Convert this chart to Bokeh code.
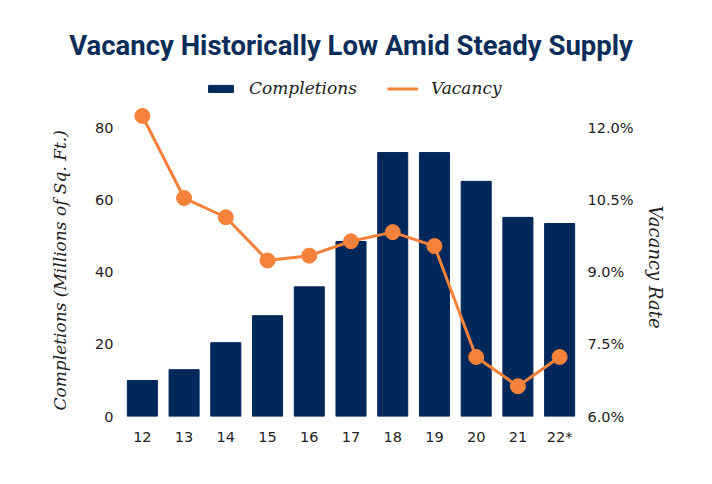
from bokeh.plotting import figure
from bokeh.models import (FactorRange, Range1d, LinearAxis, FixedTicker, PrintfTickFormatter,
                          Legend, LegendItem, Title)
from bokeh.embed import file_html
from bokeh.resources import INLINE

years = ["12", "13", "14", "15", "16", "17", "18", "19", "20", "21", "22*"]
completions = [10.0, 13.0, 20.5, 28.0, 36.0, 48.6, 73.3, 73.3, 65.3, 55.3, 53.6]
vacancy = [12.26, 10.55, 10.15, 9.25, 9.35, 9.65, 9.84, 9.55, 7.24, 6.63, 7.24]
left_ticks = [0, 20, 40, 60, 80]
right_ticks = [6.0, 7.5, 9.0, 10.5, 12.0]

NAVY = "#00285a"
ORANGE = "#f5823a"
TEXT = "#222222"
SERIF = "DejaVu Serif"
SANS = "DejaVu Sans"

YTOP = 94.7
p = figure(x_range=FactorRange(*years, range_padding=0), y_range=Range1d(0, YTOP),
           width=696, height=468,
           min_border_left=121, min_border_right=116, min_border_top=75, min_border_bottom=52,
           output_backend="svg", toolbar_location=None)
p.extra_y_ranges = {"vac": Range1d(6.0, 6.0 + YTOP * 6.0 / 80)}

bars = p.vbar(x=years, top=completions, width=0.72, color=NAVY)
line = p.line(x=years, y=vacancy, y_range_name="vac", color=ORANGE, line_width=3)
p.scatter(x=years, y=vacancy, y_range_name="vac", size=15, color=ORANGE)

p.title.text = "Vacancy Historically Low Amid Steady Supply"
p.title.align = "center"
p.title.text_font = "Roboto"
p.title.text_font_style = "bold"
p.title.text_font_size = "27.5px"
p.title.text_color = "#0c2d5a"
p.title.standoff = 27

legend = Legend(items=[LegendItem(label="Completions", renderers=[bars]),
                       LegendItem(label="Vacancy", renderers=[line])],
                orientation="horizontal", location=(84, 318))
legend.label_text_font = SERIF
legend.label_text_font_style = "italic"
legend.label_text_font_size = "17px"
legend.label_text_color = TEXT
legend.glyph_width = 31
legend.glyph_height = 9
legend.spacing = 30
legend.label_standoff = 13
legend.border_line_color = None
legend.background_fill_alpha = 0
legend.padding = 2
legend.margin = 0
p.add_layout(legend)

for ax in [p.xaxis[0], p.yaxis[0]]:
    ax.axis_line_color = None
    ax.major_tick_line_color = None
    ax.minor_tick_line_color = None
    ax.major_tick_out = 0
    ax.major_tick_in = 0
    ax.major_label_text_font = SANS
    ax.major_label_text_font_size = "14.5px"
    ax.major_label_text_color = TEXT

p.xaxis.major_label_standoff = 12
p.yaxis[0].ticker = FixedTicker(ticks=left_ticks)
p.yaxis[0].major_label_standoff = 8

ry = LinearAxis(y_range_name="vac", ticker=FixedTicker(ticks=right_ticks),
                formatter=PrintfTickFormatter(format="%.1f%%"))
ry.axis_line_color = None
ry.major_tick_line_color = None
ry.minor_tick_line_color = None
ry.major_tick_out = 0
ry.major_tick_in = 0
ry.major_label_text_font = SANS
ry.major_label_text_font_size = "14.5px"
ry.major_label_text_color = TEXT
ry.major_label_standoff = 7
p.add_layout(ry, "right")

# axis titles, placed along the 0-80 / 6-12% span as in the reference
left_lab = Title(text="Completions (Millions of Sq. Ft.)", align="left", offset=6, standoff=46,
                 text_font=SERIF, text_font_style="italic", text_font_size="17px",
                 text_color=TEXT)
p.add_layout(left_lab, "left")
right_lab = Title(text="Vacancy Rate", align="left", offset=130, standoff=16,
                  text_font=SERIF, text_font_style="italic", text_font_size="18px",
                  text_color=TEXT)
p.add_layout(right_lab, "right")

p.xgrid.grid_line_color = None
p.ygrid.grid_line_color = None
p.outline_line_color = None

open("out.html", "w").write(file_html(p, INLINE))
